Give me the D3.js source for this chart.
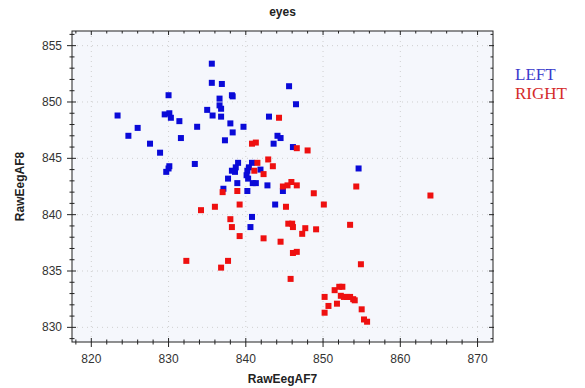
<!DOCTYPE html>
<html>
<head>
<meta charset="utf-8">
<script src="https://cdn.jsdelivr.net/npm/d3@7"></script>
<style>
  body { margin: 0; background: #fff; }
  svg text { font-family: Arial, "Liberation Sans", sans-serif; }
</style>
</head>
<body>
<div id="chart"></div>
<script>
// x = RawEegAF7, y = RawEegAF8
var leftX = [835.6, 835.6, 836.9, 830.0, 836.6, 838.2, 838.3, 836.6, 836.8, 835.0, 835.7, 836.8, 823.4, 829.5,
  830.1, 830.3, 831.4, 826.0, 833.7, 838.0, 839.7, 838.3, 824.8, 831.6, 837.3, 845.6, 846.5, 843.0, 844.1,
  844.5, 843.6, 846.1, 827.6, 828.9, 830.1, 830.0, 829.7, 833.4, 854.6, 842.8, 837.1, 839.0, 838.7, 838.2,
  838.6, 837.7, 838.9, 840.2, 840.8, 840.4, 840.2, 840.1, 840.3, 840.9, 841.3, 841.9, 844.8, 843.8, 840.8, 840.6];
var leftY = [853.4, 851.7, 851.6, 850.6, 850.3, 850.6, 850.5, 849.7, 849.4, 849.3, 848.8, 848.7, 848.8, 848.9,
  849.0, 848.6, 848.3, 847.7, 847.8, 848.1, 847.8, 847.3, 847.0, 846.8, 846.6, 851.4, 849.8, 848.7, 847.0,
  846.8, 846.3, 846.0, 846.3, 845.5, 844.3, 844.1, 843.8, 844.5, 844.1, 842.6, 842.3, 844.6, 844.2, 843.9,
  843.8, 843.2, 842.8, 842.1, 844.6, 844.2, 843.9, 843.5, 843.2, 842.8, 842.8, 844.0, 842.1, 840.9, 839.8, 838.9];

var rightX = [844.3, 840.8, 841.3, 846.6, 848.0, 842.9, 843.5, 841.5, 841.1, 842.3, 844.8, 845.4, 845.9, 846.6,
  837.0, 838.9, 836.0, 839.2, 845.2, 834.2, 838.0, 838.2, 839.2, 842.3, 844.5, 845.5, 846.0, 846.1, 847.7,
  847.3, 846.1, 846.6, 845.8, 832.3, 837.7, 836.8, 848.8, 854.3, 863.9, 850.1, 849.1, 853.5, 854.9, 850.2,
  850.7, 850.2, 851.5, 852.1, 852.5, 852.3, 852.7, 853.1, 853.5, 853.9, 854.1, 851.8, 855.0, 855.3, 855.7];
var rightY = [848.6, 846.3, 846.4, 845.9, 845.7, 844.9, 844.3, 844.6, 843.9, 843.6, 842.5, 842.6, 842.9, 842.6,
  842.0, 842.1, 840.7, 840.9, 840.7, 840.4, 839.6, 838.9, 838.1, 837.9, 837.6, 839.2, 839.2, 838.9, 838.8,
  838.3, 836.6, 836.7, 834.3, 835.9, 835.9, 835.3, 841.9, 842.5, 841.7, 840.9, 838.7, 839.1, 835.6, 832.7,
  831.9, 831.3, 833.3, 833.6, 833.6, 832.8, 832.7, 832.7, 832.7, 832.5, 832.4, 832.1, 831.6, 830.7, 830.5];

var xTicks = [820, 830, 840, 850, 860, 870];
var yTicks = [830, 835, 840, 845, 850, 855];
var seriesNames = ["LEFT", "RIGHT"];

var width = 585, height = 388;
var margin = { top: 31, right: 92, bottom: 46, left: 72 };
var plotW = width - margin.left - margin.right;
var plotH = height - margin.top - margin.bottom;

var svg = d3.select("#chart").append("svg")
  .attr("width", width)
  .attr("height", height);

var g = svg.append("g")
  .attr("transform", "translate(" + margin.left + "," + margin.top + ")");

var x = d3.scaleLinear().domain([817.5, 872]).range([0, plotW]);
var y = d3.scaleLinear().domain([828.7, 856.3]).range([plotH, 0]);

// plot background
g.append("rect")
  .attr("width", plotW)
  .attr("height", plotH)
  .attr("fill", "#f5f7fc");

// dotted grid
g.append("g").selectAll("line").data(xTicks).enter().append("line")
  .attr("x1", d => x(d)).attr("x2", d => x(d))
  .attr("y1", 0).attr("y2", plotH)
  .attr("stroke", "#cfcfcf").attr("stroke-dasharray", "1,4");
g.append("g").selectAll("line").data(yTicks).enter().append("line")
  .attr("x1", 0).attr("x2", plotW)
  .attr("y1", d => y(d)).attr("y2", d => y(d))
  .attr("stroke", "#cfcfcf").attr("stroke-dasharray", "1,4");

var xMinor = d3.range(818, 872, 2).filter(v => v % 10 !== 0);
var yMinor = d3.range(829, 857, 1).filter(v => v % 5 !== 0);

function axisLines() {
  var a = g.append("g").attr("stroke", "#222").attr("stroke-width", 1);
  // border
  a.append("rect").attr("x", 0).attr("y", 0).attr("width", plotW).attr("height", plotH)
    .attr("fill", "none");
  // bottom ticks (crossing)
  a.selectAll(null).data(xTicks).enter().append("line")
    .attr("x1", d => x(d)).attr("x2", d => x(d))
    .attr("y1", plotH - 4).attr("y2", plotH + 5);
  a.selectAll(null).data(xMinor).enter().append("line")
    .attr("x1", d => x(d)).attr("x2", d => x(d))
    .attr("y1", plotH - 2.5).attr("y2", plotH + 2.5);
  // top ticks (inward)
  a.selectAll(null).data(xTicks).enter().append("line")
    .attr("x1", d => x(d)).attr("x2", d => x(d))
    .attr("y1", 0).attr("y2", 4);
  a.selectAll(null).data(xMinor).enter().append("line")
    .attr("x1", d => x(d)).attr("x2", d => x(d))
    .attr("y1", 0).attr("y2", 2.5);
  // left ticks (crossing)
  a.selectAll(null).data(yTicks).enter().append("line")
    .attr("y1", d => y(d)).attr("y2", d => y(d))
    .attr("x1", -5).attr("x2", 4);
  a.selectAll(null).data(yMinor).enter().append("line")
    .attr("y1", d => y(d)).attr("y2", d => y(d))
    .attr("x1", -2.5).attr("x2", 2.5);
  // right ticks (inward)
  a.selectAll(null).data(yTicks).enter().append("line")
    .attr("y1", d => y(d)).attr("y2", d => y(d))
    .attr("x1", plotW - 4).attr("x2", plotW + 1);
  a.selectAll(null).data(yMinor).enter().append("line")
    .attr("y1", d => y(d)).attr("y2", d => y(d))
    .attr("x1", plotW - 2.5).attr("x2", plotW);
}
axisLines();

// tick labels
g.append("g").selectAll("text").data(xTicks).enter().append("text")
  .attr("x", d => x(d)).attr("y", plotH + 21)
  .attr("text-anchor", "middle")
  .attr("font-size", 12).attr("fill", "#333")
  .text(d => d);
g.append("g").selectAll("text").data(yTicks).enter().append("text")
  .attr("x", -10).attr("y", d => y(d) + 4)
  .attr("text-anchor", "end")
  .attr("font-size", 12).attr("fill", "#333")
  .text(d => d);

// points
function drawPoints(xs, ys, color) {
  var pts = xs.map((v, i) => [v, ys[i]]);
  g.append("g").selectAll("rect").data(pts).enter().append("rect")
    .attr("x", d => x(d[0]) - 3)
    .attr("y", d => y(d[1]) - 3)
    .attr("width", 6).attr("height", 6)
    .attr("fill", color);
}
drawPoints(leftX, leftY, "#0a0ad8");
drawPoints(rightX, rightY, "#ee1010");

// titles
svg.append("text")
  .attr("x", margin.left + plotW / 2).attr("y", 16)
  .attr("text-anchor", "middle")
  .attr("font-size", 12).attr("font-weight", "bold").attr("fill", "#222")
  .text("eyes");
svg.append("text")
  .attr("x", margin.left + plotW / 2).attr("y", 383)
  .attr("text-anchor", "middle")
  .attr("font-size", 12).attr("font-weight", "bold").attr("fill", "#222")
  .text("RawEegAF7");
svg.append("text")
  .attr("transform", "translate(24," + (margin.top + plotH / 2) + ") rotate(-90)")
  .attr("text-anchor", "middle")
  .attr("font-size", 12).attr("font-weight", "bold").attr("fill", "#222")
  .text("RawEegAF8");

// legend
var legendColors = ["#3a3acc", "#d42a2a"];
svg.append("g").selectAll("text").data(seriesNames).enter().append("text")
  .attr("x", 515)
  .attr("y", (d, i) => 80 + i * 19)
  .style("font-family", "'Liberation Serif', 'Times New Roman', serif")
  .attr("font-size", 17)
  .attr("fill", (d, i) => legendColors[i])
  .text(d => d);
</script>
</body>
</html>
